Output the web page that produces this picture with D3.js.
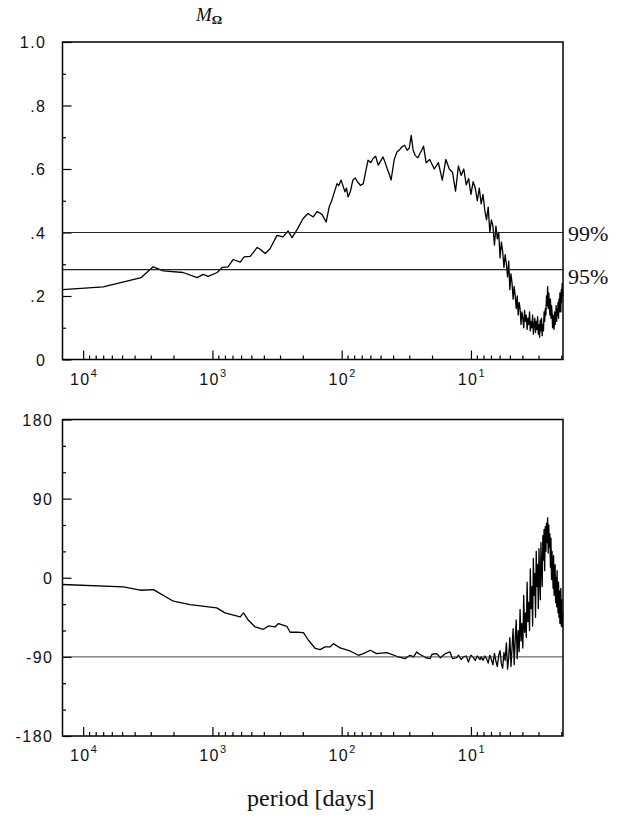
<!DOCTYPE html>
<html>
<head>
<meta charset="utf-8">
<script src="https://cdn.jsdelivr.net/npm/d3@7"></script>
<style>
  html, body { margin: 0; padding: 0; background: #fff; }
  svg { display: block; }
  .num { font-family: "Liberation Sans", Arial, sans-serif; font-size: 16px; fill: #111; letter-spacing: 1.5px; }
  .serif { font-family: "Liberation Serif", "Times New Roman", serif; fill: #111; }
</style>
</head>
<body>
<svg id="chart" width="623" height="819"></svg>
<script>
// x axis shows the period in days; the series are sampled in frequency (cycles / day)
const periodDomain = [14450, 1.94];
const periodMajor = [1e4, 1e3, 1e2, 1e1];

const ampTicksMajor = [0, 0.2, 0.4, 0.6, 0.8, 1.0];
const ampTickLabels = ['0', '.2', '.4', '.6', '.8', '1.0'];
const phaseTicksMajor = [-180, -90, 0, 90, 180];
const phaseTickLabels = ['-180', '-90', '0', '90', '180'];

const sigLevels = [
  { label: '99%', value: 0.4 },
  { label: '95%', value: 0.283 },
];
const phaseRef = -90;

// [frequency, M_Omega]
const amplitude = [
  [0.0000692, 0.220], [0.000143, 0.229], [0.000281, 0.258], [0.000348, 0.292], [0.000417, 0.279],
  [0.000592, 0.274], [0.000763, 0.258], [0.000847, 0.268], [0.000926, 0.262], [0.00109, 0.274],
  [0.00119, 0.290], [0.00132, 0.292], [0.00145, 0.315], [0.00164, 0.307], [0.00176, 0.323],
  [0.00196, 0.325], [0.00222, 0.353], [0.00234, 0.347], [0.00256, 0.334], [0.00279, 0.349],
  [0.00316, 0.391], [0.00352, 0.386], [0.00385, 0.405], [0.00413, 0.384], [0.00452, 0.409],
  [0.00503, 0.444], [0.00549, 0.460], [0.00602, 0.449], [0.00645, 0.466], [0.00704, 0.457],
  [0.00758, 0.433], [0.0080, 0.480], [0.0084, 0.502], [0.0092, 0.554], [0.0095, 0.548],
  [0.0099, 0.565], [0.0106, 0.528], [0.0109, 0.540], [0.0112, 0.512], [0.0117, 0.530],
  [0.0122, 0.565], [0.0127, 0.572], [0.0133, 0.559], [0.0140, 0.548], [0.0147, 0.554],
  [0.0153, 0.590], [0.0160, 0.628], [0.0168, 0.620], [0.0175, 0.633], [0.0183, 0.640],
  [0.0192, 0.612], [0.0200, 0.625], [0.0209, 0.638], [0.0217, 0.620], [0.0225, 0.601],
  [0.0233, 0.585], [0.0241, 0.565], [0.0255, 0.630], [0.0268, 0.654], [0.0280, 0.660],
  [0.0293, 0.670], [0.0307, 0.675], [0.0321, 0.659], [0.0333, 0.665], [0.0345, 0.706],
  [0.0357, 0.660], [0.0370, 0.643], [0.0388, 0.635], [0.0403, 0.649], [0.0417, 0.660],
  [0.0430, 0.672], [0.0440, 0.645], [0.0450, 0.620],
  [0.048, 0.63], [0.052, 0.60], [0.056, 0.62], [0.060, 0.565], [0.064, 0.63], [0.068, 0.60],
  [0.072, 0.59], [0.076, 0.53], [0.080, 0.61], [0.084, 0.58], [0.088, 0.60], [0.092, 0.55],
  [0.096, 0.57], [0.100, 0.52], [0.104, 0.56], [0.108, 0.54], [0.112, 0.50], [0.116, 0.54],
  [0.120, 0.49], [0.124, 0.52], [0.128, 0.47], [0.132, 0.44], [0.136, 0.48], [0.140, 0.40],
  [0.144, 0.44], [0.148, 0.42], [0.152, 0.36], [0.156, 0.42], [0.160, 0.38], [0.164, 0.40],
  [0.168, 0.32], [0.172, 0.37], [0.176, 0.34], [0.180, 0.29], [0.184, 0.33], [0.188, 0.30],
  [0.192, 0.26], [0.196, 0.31], [0.200, 0.22], [0.204, 0.27], [0.208, 0.24], [0.212, 0.19],
  [0.216, 0.23], [0.220, 0.20], [0.224, 0.16], [0.228, 0.20], [0.232, 0.14], [0.236, 0.18],
  [0.240, 0.16], [0.244, 0.11], [0.248, 0.15], [0.252, 0.13], [0.256, 0.10], [0.260, 0.155],
  [0.264, 0.12], [0.268, 0.14], [0.272, 0.095], [0.276, 0.13], [0.280, 0.11], [0.284, 0.15],
  [0.288, 0.09], [0.292, 0.12], [0.296, 0.10], [0.300, 0.14], [0.304, 0.08], [0.308, 0.11],
  [0.312, 0.13], [0.316, 0.085], [0.320, 0.12], [0.324, 0.095], [0.328, 0.135], [0.332, 0.08],
  [0.336, 0.11], [0.340, 0.07], [0.344, 0.125], [0.348, 0.09], [0.352, 0.13], [0.356, 0.075],
  [0.360, 0.11], [0.364, 0.09], [0.368, 0.15], [0.372, 0.12], [0.376, 0.16], [0.380, 0.14],
  [0.384, 0.20], [0.388, 0.17], [0.392, 0.23], [0.396, 0.16], [0.400, 0.21], [0.404, 0.18],
  [0.408, 0.14], [0.412, 0.19], [0.416, 0.13], [0.420, 0.17], [0.424, 0.15], [0.428, 0.10],
  [0.432, 0.14], [0.436, 0.12], [0.440, 0.095], [0.444, 0.15], [0.448, 0.11], [0.452, 0.13],
  [0.456, 0.17], [0.460, 0.12], [0.464, 0.16], [0.468, 0.14], [0.472, 0.18], [0.476, 0.13],
  [0.480, 0.19], [0.484, 0.15], [0.488, 0.21], [0.492, 0.17], [0.496, 0.15], [0.500, 0.22],
  [0.504, 0.18], [0.508, 0.24], [0.512, 0.20],
];

// [frequency, phase in degrees]
const phase = [
  [0.0000692, -7.7], [0.000205, -10.4], [0.000276, -14.2], [0.000350, -13.5], [0.000499, -26.7],
  [0.000672, -30.5], [0.00108, -34.3], [0.00125, -40], [0.00164, -44.6], [0.00174, -40],
  [0.00190, -48.4], [0.00214, -56], [0.00248, -58.6], [0.00271, -54.8], [0.00305, -56],
  [0.00324, -52.1], [0.00376, -55.2], [0.00399, -62], [0.00450, -62], [0.00506, -62.4],
  [0.00553, -71.1], [0.00623, -80.2], [0.00681, -81.7], [0.00745, -78.7], [0.00813, -78.7],
  [0.00863, -74.9], [0.00973, -79.9], [0.0116, -83.3], [0.01346, -88.2], [0.01472, -86.3],
  [0.0166, -82.5], [0.01867, -86.3], [0.02233, -85.2], [0.02667, -89.3], [0.0309, -92],
  [0.0338, -88.2], [0.036, -90], [0.0381, -84.4], [0.040, -87], [0.0429, -89.3],
  [0.045, -91], [0.0483, -92], [0.050, -87], [0.0544, -86.3], [0.058, -91],
  [0.0612, -88.2], [0.064, -86], [0.0689, -84.4], [0.072, -92], [0.0776, -90.9],
  [0.080, -88], [0.084, -93], [0.0873, -90.1], [0.092, -89], [0.0955, -95.8],
  [0.100, -88], [0.1044, -90.9], [0.108, -94], [0.112, -89], [0.1175, -93.2],
  [0.120, -90], [0.124, -94], [0.128, -89], [0.132, -92], [0.136, -97], [0.140, -88],
  [0.144, -93], [0.148, -99], [0.152, -86], [0.156, -95], [0.160, -101], [0.164, -88],
  [0.168, -83], [0.172, -98], [0.176, -103], [0.180, -85], [0.184, -94], [0.188, -74],
  [0.192, -104], [0.196, -90], [0.200, -68], [0.204, -101], [0.208, -80], [0.212, -58],
  [0.216, -99], [0.220, -70], [0.224, -48], [0.228, -92], [0.232, -60], [0.236, -84],
  [0.240, -36], [0.244, -72], [0.248, -52], [0.252, -80], [0.256, -20], [0.260, -62],
  [0.264, -40], [0.268, -68], [0.272, -5], [0.276, -50], [0.280, -28], [0.284, -60],
  [0.288, 10], [0.292, -35], [0.296, -10], [0.300, -55], [0.304, 22], [0.308, -20],
  [0.312, 5], [0.316, -45], [0.320, 30], [0.324, -10], [0.328, 15], [0.332, -35],
  [0.336, 33], [0.340, 0], [0.344, -25], [0.348, 40], [0.352, 10], [0.356, -10],
  [0.360, 48], [0.364, 20], [0.368, 55], [0.372, 8], [0.376, 58], [0.380, 30],
  [0.384, 62], [0.388, 40], [0.392, 68], [0.396, 28], [0.400, 60], [0.404, 35],
  [0.408, 50], [0.412, 12], [0.416, 45], [0.420, -2], [0.424, 30], [0.428, 10],
  [0.432, -12], [0.436, 25], [0.440, -20], [0.444, 5], [0.448, 15], [0.452, -28],
  [0.456, 0], [0.460, -33], [0.464, 8], [0.468, -25], [0.472, -40], [0.476, -5],
  [0.480, -45], [0.484, -15], [0.488, -52], [0.492, -30], [0.496, -12], [0.500, -55],
  [0.504, -25], [0.508, -56], [0.512, -42],
];

const svg = d3.select('#chart');
const left = 62.5;
const right = 563;

const x = d3.scaleLog().domain(periodDomain).range([left, right]);
const periodMinor = x.ticks().filter((p) => !periodMajor.includes(p));

const panels = [
  {
    top: 42, bottom: 359.5, domain: [0, 1], data: amplitude,
    major: ampTicksMajor, labels: ampTickLabels, minorStep: 0.1, labelX: 45,
  },
  {
    top: 419.5, bottom: 736, domain: [-180, 180], data: phase,
    major: phaseTicksMajor, labels: phaseTickLabels, minorStep: 30, labelX: 52,
  },
];

const drawPanel = (p) => {
  const y = d3.scaleLinear().domain(p.domain).range([p.bottom, p.top]);
  const g = svg.append('g');
  p.y = y;

  const line = d3.line()
    .x((d) => x(1 / d[0]))
    .y((d) => y(d[1]));

  g.append('path')
    .datum(p.data)
    .attr('fill', 'none')
    .attr('stroke', '#000')
    .attr('stroke-width', 1.3)
    .attr('stroke-linejoin', 'round')
    .attr('d', line);

  // x ticks, drawn inward
  const xMinorAxis = d3.axisBottom(x).tickValues(periodMinor).tickSize(-4).tickFormat('');
  const xMajorAxis = d3.axisBottom(x).tickValues(periodMajor).tickSize(-9).tickFormat('');
  [xMinorAxis, xMajorAxis].forEach((ax) => {
    const a = g.append('g').attr('transform', `translate(0,${p.bottom})`).call(ax);
    a.select('.domain').remove();
    a.selectAll('line').attr('stroke', '#000').attr('stroke-width', 1.2);
  });

  // y ticks, drawn inward
  const yMinor = d3.range(p.domain[0], p.domain[1] + 1e-9, p.minorStep)
    .filter((v) => !p.major.some((m) => Math.abs(m - v) < 1e-9));
  const yMinorAxis = d3.axisLeft(y).tickValues(yMinor).tickSize(-3.5).tickFormat('');
  const yMajorAxis = d3.axisLeft(y).tickValues(p.major).tickSize(-9).tickFormat('');
  [yMinorAxis, yMajorAxis].forEach((ax) => {
    const a = g.append('g').attr('transform', `translate(${left},0)`).call(ax);
    a.select('.domain').remove();
    a.selectAll('line').attr('stroke', '#000').attr('stroke-width', 1.2);
  });

  // frame
  g.append('rect')
    .attr('x', left)
    .attr('y', p.top)
    .attr('width', right - left)
    .attr('height', p.bottom - p.top)
    .attr('fill', 'none')
    .attr('stroke', '#000')
    .attr('stroke-width', 1.5);

  // y labels
  g.selectAll('.ylab')
    .data(p.major)
    .enter()
    .append('text')
    .attr('class', 'num')
    .attr('text-anchor', 'end')
    .attr('x', p.labelX + 1.5)
    .attr('y', (d) => y(d) + 6)
    .text((d, i) => p.labels[i]);

  // x labels: 10 with superscript exponent
  const xl = g.selectAll('.xlab')
    .data(periodMajor)
    .enter()
    .append('text')
    .attr('class', 'num')
    .attr('text-anchor', 'middle')
    .attr('x', (d) => x(d) + 1)
    .attr('y', p.bottom + 25);
  xl.append('tspan').text('10');
  xl.append('tspan')
    .attr('dy', -8)
    .attr('font-size', 11)
    .text((d) => Math.round(Math.log10(d)));

  return g;
};

panels.forEach((p) => drawPanel(p));

// significance levels on the amplitude panel
const ampY = panels[0].y;
const sig = svg.append('g');
sig.selectAll('line')
  .data(sigLevels)
  .enter()
  .append('line')
  .attr('x1', left)
  .attr('x2', right)
  .attr('y1', (d) => ampY(d.value))
  .attr('y2', (d) => ampY(d.value))
  .attr('stroke', '#222')
  .attr('stroke-width', 1.1);
sig.selectAll('text')
  .data(sigLevels)
  .enter()
  .append('text')
  .attr('class', 'serif')
  .attr('font-size', 22)
  .attr('x', right + 5)
  .attr('y', (d, i) => ampY(d.value) + (i === 0 ? 8 : 14))
  .text((d) => d.label);

// -90 degree reference on the phase panel
const phY = panels[1].y;
svg.append('line')
  .attr('x1', left)
  .attr('x2', right)
  .attr('y1', phY(phaseRef))
  .attr('y2', phY(phaseRef))
  .attr('stroke', '#333')
  .attr('stroke-width', 0.9);

// titles
const mt = svg.append('text')
  .attr('class', 'serif')
  .attr('x', 196)
  .attr('y', 21)
  .attr('font-size', 19)
  .attr('font-style', 'italic');
mt.append('tspan').text('M');
mt.append('tspan').attr('dy', 3).attr('font-size', 13).attr('font-style', 'normal').attr('font-weight', 'bold').text('Ω');

svg.append('text')
  .attr('class', 'serif')
  .attr('x', (left + right) / 2 - 2)
  .attr('y', 806)
  .attr('text-anchor', 'middle')
  .attr('font-size', 24)
  .text('period [days]');
</script>
</body>
</html>
